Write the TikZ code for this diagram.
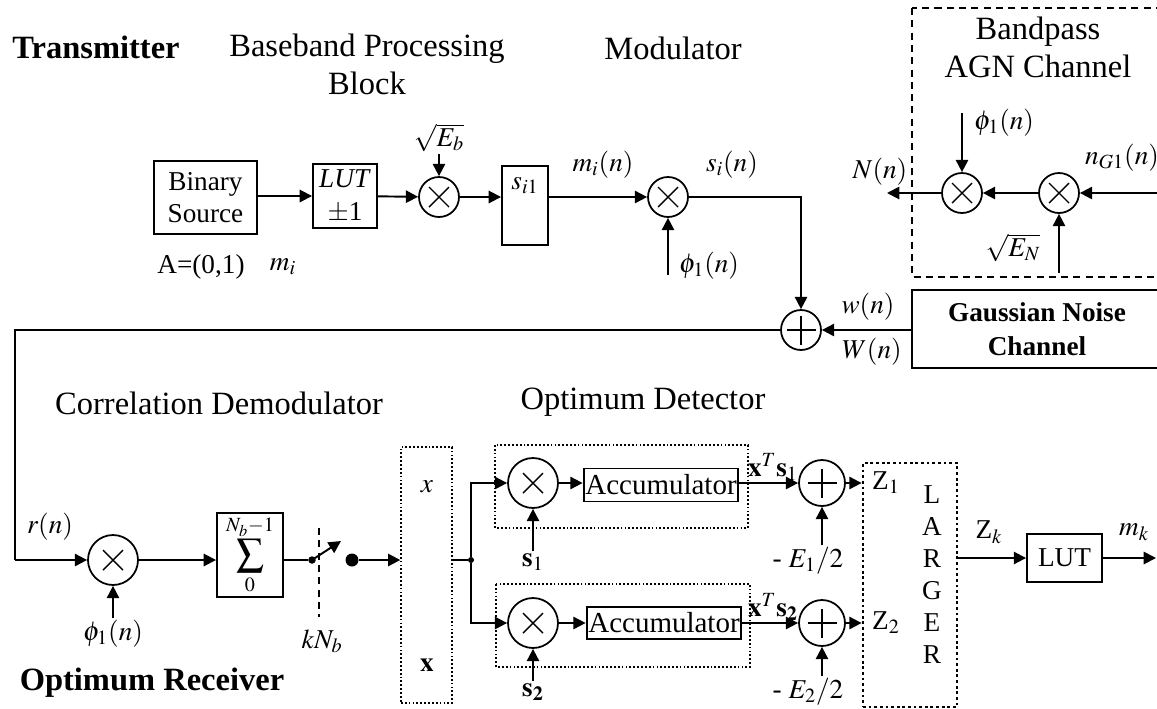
\documentclass[tikz,border=0pt]{standalone}
\usepackage{mathptmx}
\usepackage[no-math]{fontspec}
\setmainfont{Liberation Serif}
\usetikzlibrary{arrows.meta, positioning, calc}
\tikzset{
  flow/.style={-{Triangle[length=7pt,width=7pt]}, line width=1.1pt},
  wire/.style={line width=1.1pt},
  blk/.style={draw, line width=1.1pt, align=center, inner sep=1pt},
  grp/.style={draw, line width=0.8pt, dash pattern=on 1pt off 1.2pt},
  dot/.style={circle, fill, inner sep=0pt, minimum size=#1},
}
\begin{document}
\begin{tikzpicture}[
    x=0.02cm, y=-0.02cm,
    every node/.style={font=\fontsize{15.5}{18.5}\selectfont, inner sep=1pt},
    heading/.style={font=\fontsize{18.5}{21.5}\selectfont, align=center},
    mixer/.style={
        circle, draw, line width=1pt, minimum size=#1, inner sep=0pt,
        path picture={\draw[line width=0.8pt]
            (path picture bounding box.center) ++(-0.2cm,-0.2cm) -- ++(0.4cm,0.4cm)
            (path picture bounding box.center) ++(-0.2cm,0.2cm) -- ++(0.4cm,-0.4cm);}
    },
    adder/.style={
        circle, draw, line width=1pt, minimum size=#1, inner sep=0pt,
        path picture={\draw[line width=0.8pt]
            (path picture bounding box.center) ++(-0.29cm,0) -- ++(0.58cm,0)
            (path picture bounding box.center) ++(0,-0.29cm) -- ++(0,0.58cm);}
    }
]

\path[use as bounding box, clip] (0,0) rectangle (1157,708);

% transmitter
\node[heading, font=\fontsize{18.5}{21.5}\selectfont\bfseries] (tx) at (96,47) {Transmitter};
\node[heading] (bbtitle) at (367,64) {Baseband Processing\\Block};
\node[heading] (modtitle) at (673,48) {Modulator};

\node[blk, minimum width=2.06cm, minimum height=1.46cm] (source) at (205.5,197.5) {Binary\\Source};
\node[blk, minimum width=1.28cm, minimum height=1.28cm] (lut) at (345,196) {\textit{LUT}\\$\pm$1};
\node[mixer=0.8cm] (mixeb) at (439,197) {};
\node (sqeb) at (439,138) {$\sqrt{E_b}$};
\node[blk, minimum width=0.92cm, minimum height=1.58cm,
      label={[anchor=north, yshift=-6pt]north:$s_{i1}$}] (sbox) at (525,205.5) {};
\node[mixer=0.8cm] (mixmod) at (668,197) {};
\coordinate (phitx) at (668,275);

\node (alph) at (201,267) {A=(0,1)};
\node (mi) at (283,267) {$m_i$};
\node (min) at (603,165) {$m_i(n)$};
\node (sin) at (732,165) {$s_i(n)$};
\node[anchor=west] (phitxl) at (677,266) {$\phi_1(n)$};

% channel
\draw[line width=0.8pt, dash pattern=on 4pt off 3pt] (912,8) rectangle (1162,277);
\node[heading] (agntitle) at (1038,47) {Bandpass\\AGN Channel};
\node[mixer=0.8cm] (mixphi) at (962,193) {};
\node[mixer=0.8cm] (mixen) at (1059,193) {};
\coordinate (ngin) at (1175,193);
\coordinate (nout) at (887,193);
\coordinate (phich) at (962,113);
\coordinate (sqen) at (1059,273);
\node (ngl) at (1122,158) {$n_{G1}(n)$};
\node (nl) at (880,172) {$N(n)$};
\node[anchor=west] (phichl) at (972,123) {$\phi_1(n)$};
\node (sqenl) at (1013,248) {$\sqrt{E_N}$};

\node[blk, minimum width=5cm, minimum height=1.56cm, font=\fontsize{15.5}{19}\selectfont\bfseries] (gauss) at (1037,329) {Gaussian Noise\\Channel};
\node[adder=0.8cm] (addw) at (801,330) {};
\node (wl) at (868,307) {$w(n)$};
\node (bigwl) at (872,352) {$W(n)$};
\coordinate (fbtop) at (15,330);
\coordinate (fbbot) at (15,560);

% receiver
\node[heading] (cdtitle) at (219,403) {Correlation Demodulator};
\node[heading] (odtitle) at (643,402) {Optimum Detector};
\node[heading, font=\fontsize{18.5}{21.5}\selectfont\bfseries] (rx) at (152,683) {Optimum Receiver};

\node[mixer=1cm] (mixrx) at (113,560) {};
\node (rl) at (50,527) {$r(n)$};
\node (phirx) at (113,634) {$\phi_1(n)$};
\node[blk, minimum width=1.32cm, minimum height=1.68cm] (sumbox) at (250,555) {$\displaystyle\sum_{0}^{N_b-1}$};
\node[dot=0.15cm] (sw) at (312,560) {};
\coordinate (swtip) at (341,541);
\node[dot=0.26cm] (swout) at (352,560) {};
\node (knb) at (322,641) {$kN_b$};

\node[grp, minimum width=1.02cm, minimum height=5.12cm] (xbox) at (426.5,575) {};
\node (xit) at (427,487) {$x$};
\node (xbf) at (427,665) {$\mathbf{x}$};
\node[dot=0.12cm] (split) at (471,560) {};

\draw[grp] (495,445) rectangle (748,528);
\draw[grp] (496,584) rectangle (750,667);
\node[mixer=1cm] (mixs1) at (533,483) {};
\node[mixer=1cm] (mixs2) at (533,623) {};
\node[blk, minimum width=3.06cm, minimum height=0.66cm, font=\fontsize{16.5}{19}\selectfont] (acc1) at (661,485) {Accumulator};
\node[blk, minimum width=3.06cm, minimum height=0.64cm, font=\fontsize{16.5}{19}\selectfont] (acc2) at (664,623) {Accumulator};
\node (s1l) at (533,562) {$\mathbf{s}_1$};
\node (s2l) at (533,692) {$\mathbf{s}_{\mathbf{2}}$};
\node (xs1) at (773,467) {$\mathbf{x}^T\mathbf{s}_1$};
\node (xs2) at (773,607) {$\mathbf{x}^T\mathbf{s}_{\mathbf{2}}$};
\node[adder=0.92cm] (add1) at (822,483) {};
\node[adder=0.92cm] (add2) at (822,623) {};
\node (e1l) at (808,561) {- $E_1/2$};
\node (e2l) at (808,692) {- $E_2/2$};

\node[draw, line width=1.6pt, dash pattern=on 1.6pt off 1.6pt, minimum width=1.88cm, minimum height=4.88cm] (larger) at (910,585) {};
\node[align=center, font=\fontsize{15.5}{18.2}\selectfont] (largertxt) at (932,575) {L\\A\\R\\G\\E\\R};
\node (z1l) at (886,483) {Z$_1$};
\node (z2l) at (886,623) {Z$_2$};
\node[blk, minimum width=1.5cm, minimum height=0.96cm] (lutrx) at (1064.5,558) {LUT};
\node (zkl) at (989,532) {Z$_k$};
\node (mkl) at (1134,532) {$m_k$};
\coordinate (mkout) at (1156,558);

% transmitter wiring
\draw[flow] (source.east |- lut) -- (lut);
\draw[flow] (lut) -- (mixeb);
\draw[flow] (sqeb) -- (mixeb);
\draw[flow] (mixeb) -- (mixeb -| sbox.west);
\draw[flow] (mixmod -| sbox.east) -- (mixmod);
\draw[flow] (phitx) -- (mixmod);
\draw[flow] (mixmod) -| (addw);

% channel wiring
\draw[flow] (ngin) -- (mixen);
\draw[flow] (mixen) -- (mixphi);
\draw[flow] (mixphi) -- (nout);
\draw[flow] (phich) -- (mixphi);
\draw[flow] (sqen) -- (mixen);
\draw[flow] (gauss.west |- addw) -- (addw);
\draw[wire] (addw) -- (fbtop) -- (fbbot);

% receiver wiring
\draw[flow] (fbbot) -- (mixrx);
\draw[flow] (phirx) -- (mixrx);
\draw[flow] (mixrx) -- (mixrx -| sumbox.west);
\draw[wire] (sw -| sumbox.east) -- (sw);
\draw[flow] (sw.center) -- (swtip);
\draw[line width=1pt, dash pattern=on 4pt off 3pt] (319,528) -- (319,617);
\draw[flow] (swout) -- (swout -| xbox.west);
\draw[wire] (split -| xbox.east) -- (split);
\draw[flow] (split) |- (mixs1);
\draw[flow] (split) |- (mixs2);
\draw[flow] (mixs1) -- (acc1.west |- mixs1);
\draw[flow] (mixs2) -- (acc2);
\draw[flow] (acc1.east |- add1) -- (add1);
\draw[flow] (acc2) -- (add2);
\draw[flow] (s1l) -- (mixs1);
\draw[flow] (s2l) -- (mixs2);
\draw[flow] (e1l.north -| add1) -- (add1);
\draw[flow] (e2l.north -| add2) -- (add2);
\draw[flow] (add1) -- (add1 -| larger.west);
\draw[flow] (add2) -- (add2 -| larger.west);
\draw[flow] (larger.east |- lutrx) -- (lutrx);
\draw[flow] (lutrx) -- (mkout);

\end{tikzpicture}
\end{document}
